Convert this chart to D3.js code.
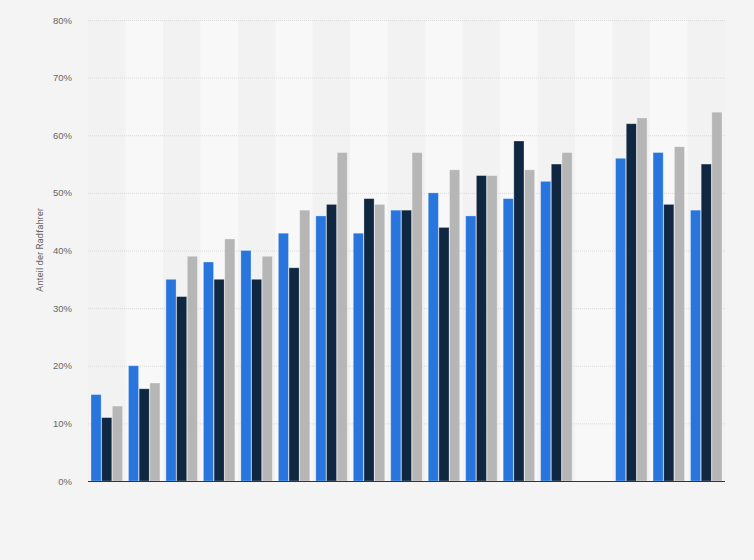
<!DOCTYPE html>
<html>
<head>
<meta charset="utf-8">
<script src="https://cdn.jsdelivr.net/npm/d3@7"></script>
<style>
    body { margin: 0; background: #f4f4f4; }
    svg { display: block; font-family: Roboto, Arial, sans-serif; }
</style>
</head>
<body>
<div id="chart"></div>
<script>
var margin = {
        top: 20,
        right: 29,
        bottom: 79,
        left: 88
    },
    width = 754 - margin.left - margin.right,
    height = 560 - margin.top - margin.bottom;

// categories have no visible labels in the picture
var groups = d3.range(17).map(function (i) { return "g" + i; });
var seriesNames = ["s1", "s2", "s3"];
var colors = ["#2876dd", "#0f2741", "#b6b6b6"];

// null = no data for that group
var series1 = [15, 20, 35, 38, 40, 43, 46, 43, 47, 50, 46, 49, 52, null, 56, 57, 47];
var series2 = [11, 16, 32, 35, 35, 37, 48, 49, 47, 44, 53, 59, 55, null, 62, 48, 55];
var series3 = [13, 17, 39, 42, 39, 47, 57, 48, 57, 54, 53, 54, 57, null, 63, 58, 64];
var yTicks = [0, 10, 20, 30, 40, 50, 60, 70, 80];

var values = [series1, series2, series3];

var svg = d3.select("#chart")
    .append("svg")
    .attr("width", width + margin.left + margin.right)
    .attr("height", height + margin.top + margin.bottom)
    .style("background-color", "#f4f4f4")
    .append("g")
    .attr("transform", "translate(" + margin.left + "," + margin.top + ")");

var x = d3.scaleBand()
    .domain(groups)
    .range([0, width]);

var x1 = d3.scaleBand()
    .domain(seriesNames)
    .range([3, x.bandwidth() - 3])
    .paddingInner(0.05);

var y = d3.scaleLinear()
    .domain([0, 80])
    .range([height, 0]);

// alternating column bands
svg.selectAll(".band")
    .data(groups)
    .enter()
    .append("rect")
    .attr("class", "band")
    .attr("x", function (d) { return x(d); })
    .attr("y", 0)
    .attr("width", x.bandwidth())
    .attr("height", height)
    .attr("fill", function (d, i) { return i % 2 ? "#f8f8f8" : "#f2f2f2"; });

// grid
svg.append("g")
    .selectAll("line")
    .data(yTicks.slice(1))
    .enter()
    .append("line")
    .attr("x1", 0)
    .attr("x2", width)
    .attr("y1", function (d) { return y(d) + 0.5; })
    .attr("y2", function (d) { return y(d) + 0.5; })
    .attr("stroke", "#dadada")
    .attr("stroke-width", 1)
    .attr("stroke-dasharray", "1,1");

// Y axis
var yAxis = svg.append("g")
    .call(d3.axisLeft(y)
        .tickValues(yTicks)
        .tickSize(0)
        .tickPadding(16)
        .tickFormat(function (d) { return d + "%"; }));
yAxis.select(".domain").remove();
yAxis.selectAll("text")
    .attr("fill", "#666")
    .style("font-size", "9.5px");

svg.append("text")
    .attr("transform", "rotate(-90)")
    .attr("x", -230)
    .attr("y", -45)
    .attr("text-anchor", "middle")
    .attr("fill", "#666")
    .style("font-size", "9.5px")
    .text("Anteil der Radfahrer");

// bars
var groupSel = svg.selectAll(".group")
    .data(groups)
    .enter()
    .append("g")
    .attr("class", "group")
    .attr("transform", function (d) { return "translate(" + x(d) + ",0)"; });

groupSel.selectAll("rect")
    .data(function (d, gi) {
        return seriesNames.map(function (s, si) {
            return { s: s, i: si, v: values[si][gi] };
        }).filter(function (e) { return e.v != null; });
    })
    .enter()
    .append("rect")
    .attr("x", function (d) { return x1(d.s); })
    .attr("y", function (d) { return y(d.v); })
    .attr("width", x1.bandwidth())
    .attr("height", function (d) { return height - y(d.v); })
    .attr("fill", function (d) { return colors[d.i]; })
    .attr("stroke", "rgba(255,255,255,0.35)")
    .attr("stroke-width", 0.8);

// baseline
svg.append("line")
    .attr("x1", 0)
    .attr("x2", width)
    .attr("y1", height + 0.5)
    .attr("y2", height + 0.5)
    .attr("stroke", "#333")
    .attr("stroke-width", 1.2);
</script>
</body>
</html>
